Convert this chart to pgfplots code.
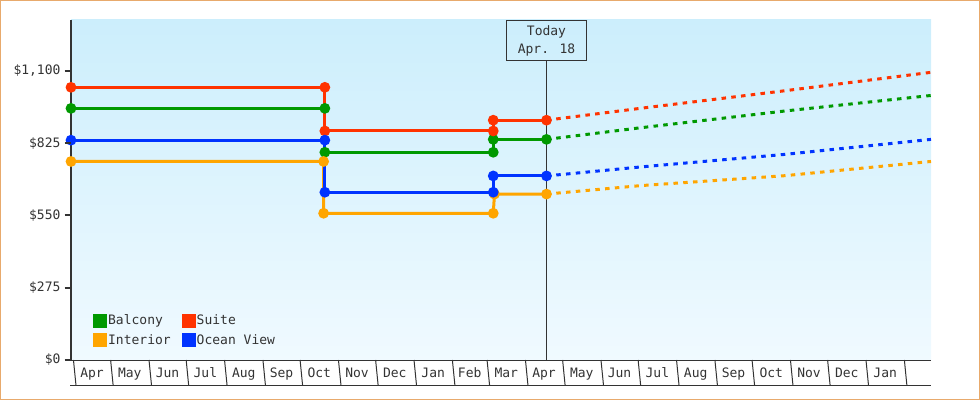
\documentclass[border=0pt]{standalone}
\usepackage{fontspec}
\setmainfont{DejaVu Sans Mono}
\usepackage{pgfplots}
\pgfplotsset{compat=1.18}
\definecolor{framec}{RGB}{232,170,108}
\definecolor{axgray}{RGB}{51,51,51}
\definecolor{bgtop}{RGB}{204,238,252}
\definecolor{bgbot}{RGB}{240,250,255}
\definecolor{cBal}{RGB}{0,153,0}
\definecolor{cSui}{RGB}{255,51,0}
\definecolor{cInt}{RGB}{255,165,0}
\definecolor{cOce}{RGB}{0,51,255}
\begin{document}
\begin{tikzpicture}
\begin{axis}[
  at={(71pt,40pt)}, anchor=south west,
  scale only axis, width=860pt, height=340pt,
  xmin=-2, xmax=692.5, ymin=0, ymax=1293,
  clip=false,
  axis background/.style={top color=bgtop, bottom color=bgbot},
  axis x line=bottom, axis y line=left,
  x axis line style={-, line width=1pt, draw=axgray},
  y axis line style={-, line width=2.5pt, draw=axgray},
  tick align=outside, major tick length=6pt,
  ytick={0,275,550,825,1100},
  yticklabels={{\$0},{\$275},{\$550},{\$825},{\$1,100}},
  ytick style={draw=none},
  yticklabel style={anchor=east, xshift=-1pt},
  xtick={15,45.5,76,106.5,137.5,168,198.5,229,259.5,290.5,320,349.5,380,410.5,441,471.5,502.5,533,563.5,594,624.5,655.5},
  xticklabels={Apr,May,Jun,Jul,Aug,Sep,Oct,Nov,Dec,Jan,Feb,Mar,Apr,May,Jun,Jul,Aug,Sep,Oct,Nov,Dec,Jan},
  xtick style={draw=none},
  xticklabel style={anchor=base, yshift=-11pt},
  /pgf/number format/assume math mode=true,
  every tick label/.append style={font=\fontsize{13}{15}\selectfont, text=axgray},
  legend columns=2,
  legend cell align=left,
  legend image code/.code={\fill[#1] (0pt,-5.5pt) rectangle (11pt,5.5pt);},
  legend style={draw=none, fill=none, inner sep=0pt,
    at={(0.0255,0.139)}, anchor=north west,
    font=\fontsize{13}{15}\selectfont, text=axgray,
    nodes={inner xsep=1pt},
    /tikz/every even column/.append style={column sep=10pt},
    row sep=4pt},
  every axis plot/.append style={line width=3pt},
]
% today line
\draw[axgray, line width=1pt] (axis cs:382,0) -- (axis cs:382,1141);
\node[draw=axgray, line width=1pt, minimum width=80pt, minimum height=40pt,
  anchor=north, align=center, inner sep=0pt, text=axgray,
  font=\fontsize{13}{18}\selectfont] at (axis cs:382,1293) {\raisebox{-1.5pt}{Today}\\\raisebox{-1.5pt}{Apr. 18}};
% month cells
\pgfplotsinvokeforeach{0,30,61,91,122,153,183,214,244,275,306,334,365,395,426,456,487,518,548,579,609,640,671}{
  \draw[axgray, line width=1pt] (axis cs:#1,0) -- ++(0,-25pt);
}
\draw[axgray, line width=1pt] ([xshift=-1pt,yshift=-25pt]rel axis cs:0,0) -- ([yshift=-25pt]rel axis cs:1,0);

\addplot[cBal, mark=*, mark size=3.8pt] coordinates {(-2,957) (203,957) (203,790) (339,790) (339,839) (382,839)};
\addlegendentry{Balcony}
\addplot[cSui, mark=*, mark size=3.8pt] coordinates {(-2,1037) (203,1037) (203,871) (339,871) (339,912) (382,912)};
\addlegendentry{Suite}
\addplot[cInt, mark=*, mark size=3.8pt] coordinates {(-2,755) (202,755) (202,558) (339,558) (340,631) (382,631)};
\addlegendentry{Interior}
\addplot[cOce, mark=*, mark size=3.8pt] coordinates {(-2,836) (203,836) (203,638) (339,638) (339,700) (382,700)};
\addlegendentry{Ocean View}

\addplot[forget plot, cSui, dash pattern=on 4.5pt off 5.3pt] coordinates {(382,912) (457.6,957) (574.6,1024) (692.5,1094)};
\addplot[forget plot, cBal, dash pattern=on 4.5pt off 5.3pt] coordinates {(382,839) (457.6,883) (574.6,947) (692.5,1006)};
\addplot[forget plot, cOce, dash pattern=on 4.5pt off 5.3pt] coordinates {(382,700) (457.6,734) (574.6,782) (692.5,839)};
\addplot[forget plot, cInt, dash pattern=on 4.5pt off 5.3pt] coordinates {(382,631) (457.6,663) (574.6,701) (692.5,755)};
\end{axis}
% y tick marks
\foreach \yy in {40,112.31,184.62,256.93,329.24}{
  \draw[axgray, line width=2pt] (64.5pt,\yy pt) -- (71pt,\yy pt);
}
\draw[framec, line width=1pt] (0.5pt,0.5pt) rectangle (979.5pt,399.5pt);
\pgfresetboundingbox
\path (0,0) rectangle (980pt,400pt);
\end{tikzpicture}
\end{document}
